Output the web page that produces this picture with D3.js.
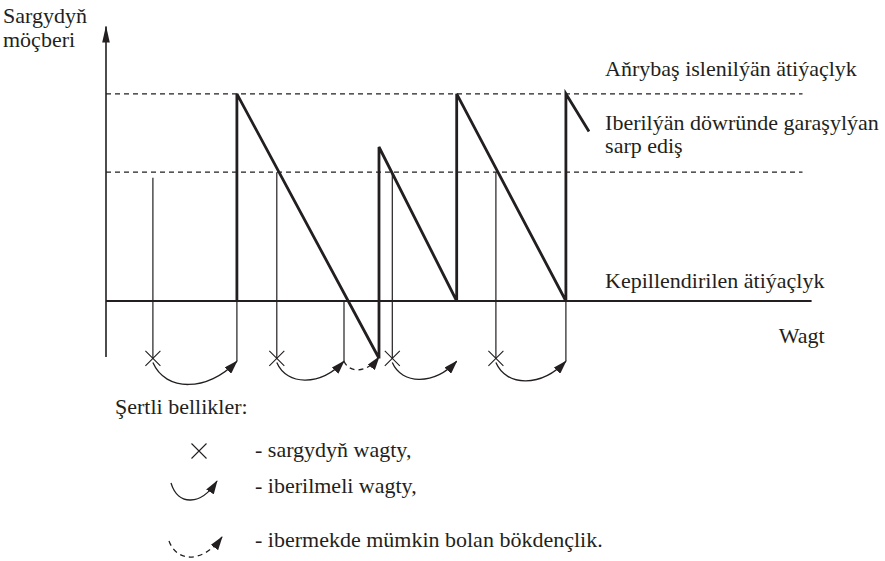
<!DOCTYPE html>
<html>
<head>
<meta charset="utf-8">
<script src="https://cdn.jsdelivr.net/npm/d3@7"></script>
<style>
  body { margin: 0; background: #fff; }
</style>
</head>
<body>
<svg id="chart"></svg>
<script>
const width = 885;
const height = 561;
const ink = "#231f20";
const serif = "Liberation Serif";
const fs = 22;

//1. Data (time units, stock units)
const stockTimes = [18.7, 18.7, 38.9, 39, 39, 50.1, 50.1, 65.7, 65.7, 69];
const stockLevels = [20, 94, 0, 0, 75, 20, 94, 20, 94, 80.5];
const maxLevel = 94;
const reorderLevel = 66;
const safetyLevel = 20;
const orderTimes = [6.7, 24.4, 40.9, 55.7];
const orderLevels = [64, 66, 66, 66];
const deliveryTimes = [18.7, 34, 50.1, 65.7];
const deliveryLineTimes = [18.7, 34, 65.7];
const delayFrom = [34];
const delayTo = [39];

//2. Scales
const x = d3.scaleLinear().domain([0, 100]).range([106, 806]);
const y = d3.scaleLinear().domain([0, 100]).range([357, 77]);

const svg = d3
  .select("#chart")
  .attr("width", width)
  .attr("height", height)
  .attr("viewBox", `0 0 ${width} ${height}`);

const defs = svg.append("defs");
defs
  .append("marker")
  .attr("id", "head")
  .attr("viewBox", "0 -4.5 14 9")
  .attr("refX", 13)
  .attr("refY", 0)
  .attr("markerWidth", 14)
  .attr("markerHeight", 9)
  .attr("markerUnits", "userSpaceOnUse")
  .attr("orient", "auto")
  .append("path")
  .attr("d", "M0,-4.5L14,0L0,4.5Z")
  .attr("fill", ink);
defs
  .append("marker")
  .attr("id", "axisHead")
  .attr("viewBox", "0 -4 17 8")
  .attr("refX", 16)
  .attr("refY", 0)
  .attr("markerWidth", 17)
  .attr("markerHeight", 8)
  .attr("markerUnits", "userSpaceOnUse")
  .attr("orient", "auto")
  .append("path")
  .attr("d", "M0,-3.8L17,0L0,3.8Z")
  .attr("fill", ink);

//3. Axis and reference lines
svg
  .append("line")
  .attr("x1", x(0))
  .attr("x2", x(0))
  .attr("y1", y(0))
  .attr("y2", y(118))
  .attr("stroke", ink)
  .attr("stroke-width", 1.6)
  .attr("marker-end", "url(#axisHead)");

svg
  .append("g")
  .selectAll("line")
  .data([maxLevel, reorderLevel])
  .join("line")
  .attr("x1", x(0))
  .attr("x2", x(99.5))
  .attr("y1", (d) => y(d))
  .attr("y2", (d) => y(d))
  .attr("stroke", ink)
  .attr("stroke-width", 1.2)
  .attr("stroke-dasharray", "5,4");

svg
  .append("line")
  .attr("x1", x(0))
  .attr("x2", x(100.8))
  .attr("y1", y(safetyLevel))
  .attr("y2", y(safetyLevel))
  .attr("stroke", ink)
  .attr("stroke-width", 2);

//4. Order moments and deliveries
svg
  .append("g")
  .selectAll("line")
  .data(orderTimes)
  .join("line")
  .attr("x1", (d) => x(d))
  .attr("x2", (d) => x(d))
  .attr("y1", (d, i) => y(orderLevels[i]))
  .attr("y2", y(-0.5))
  .attr("stroke", ink)
  .attr("stroke-width", 1.2);

svg
  .append("g")
  .selectAll("line")
  .data(deliveryLineTimes)
  .join("line")
  .attr("x1", (d) => x(d))
  .attr("x2", (d) => x(d))
  .attr("y1", y(safetyLevel))
  .attr("y2", y(-1.5))
  .attr("stroke", ink)
  .attr("stroke-width", 1.2);

function cross(g, cx, cy, r) {
  g.append("path")
    .attr("d", `M${cx - r},${cy - r}L${cx + r},${cy + r}M${cx - r},${cy + r}L${cx + r},${cy - r}`)
    .attr("stroke", ink)
    .attr("stroke-width", 1.1)
    .attr("fill", "none");
}

const crosses = svg.append("g");
orderTimes.forEach((d) => cross(crosses, x(d), y(-0.5), 7.5));

// curved arrow from (x0,y0) to (x1,y1)
function arcPath(x0, y0, x1, y1, depth) {
  const w = x1 - x0;
  return `M${x0},${y0} C${x0 + w * 0.15},${y0 + depth} ${x1 - w * 0.35},${y0 + depth} ${x1},${y1}`;
}

svg
  .append("g")
  .selectAll("path")
  .data(orderTimes)
  .join("path")
  .attr("d", (d, i) => {
    const w = x(deliveryTimes[i]) - x(d);
    return arcPath(x(d), y(-2), x(deliveryTimes[i]), y(-1.5), w * 0.35);
  })
  .attr("fill", "none")
  .attr("stroke", ink)
  .attr("stroke-width", 1.3)
  .attr("marker-end", "url(#head)");

svg
  .append("g")
  .selectAll("path")
  .data(delayFrom)
  .join("path")
  .attr("d", (d, i) => {
    const w = x(delayTo[i]) - x(d);
    return arcPath(x(d), y(-1.5), x(delayTo[i]), y(0), w * 0.35);
  })
  .attr("fill", "none")
  .attr("stroke", ink)
  .attr("stroke-width", 1.3)
  .attr("stroke-dasharray", "5,4")
  .attr("marker-end", "url(#head)");

//5. Stock level sawtooth
const line = d3
  .line()
  .x((d) => x(d[0]))
  .y((d) => y(d[1]));

svg
  .append("path")
  .attr("d", line(d3.zip(stockTimes, stockLevels)))
  .attr("fill", "none")
  .attr("stroke", ink)
  .attr("stroke-width", 2.8)
  .attr("stroke-linejoin", "miter");

//6. Labels
function label(g, tx, ty, str) {
  return g
    .append("text")
    .attr("x", tx)
    .attr("y", ty)
    .attr("font-family", serif)
    .attr("font-size", fs)
    .attr("fill", ink)
    .text(str);
}

const labels = svg.append("g");
label(labels, 3, 23, "Sargydyň");
label(labels, 3, 47, "möçberi");
label(labels, x(71.3), y(maxLevel) - 18, "Aňrybaş islenilýän ätiýaçlyk");
label(labels, x(71.3), y(maxLevel) + 36, "Iberilýän döwründe garaşylýan");
label(labels, x(71.3), y(maxLevel) + 59, "sarp ediş");
label(labels, x(71.3), y(safetyLevel) - 13, "Kepillendirilen ätiýaçlyk");
label(labels, x(96.1), y(0) - 14, "Wagt");

//7. Legend
const legend = svg.append("g");
label(legend, 115, 414, "Şertli bellikler:");
cross(legend, 199, 451, 7.5);
legend
  .append("path")
  .attr("d", arcPath(171, 483, 217, 481, 23))
  .attr("fill", "none")
  .attr("stroke", ink)
  .attr("stroke-width", 1.3)
  .attr("marker-end", "url(#head)");
legend
  .append("path")
  .attr("d", arcPath(169, 541, 222, 537, 22))
  .attr("fill", "none")
  .attr("stroke", ink)
  .attr("stroke-width", 1.3)
  .attr("stroke-dasharray", "5,4")
  .attr("marker-end", "url(#head)");
const items = ["- sargydyň wagty,", "- iberilmeli wagty,", "- ibermekde mümkin bolan bökdençlik."];
const itemY = [457, 493, 547];
items.forEach((d, i) => label(legend, 255, itemY[i], d));
</script>
</body>
</html>
